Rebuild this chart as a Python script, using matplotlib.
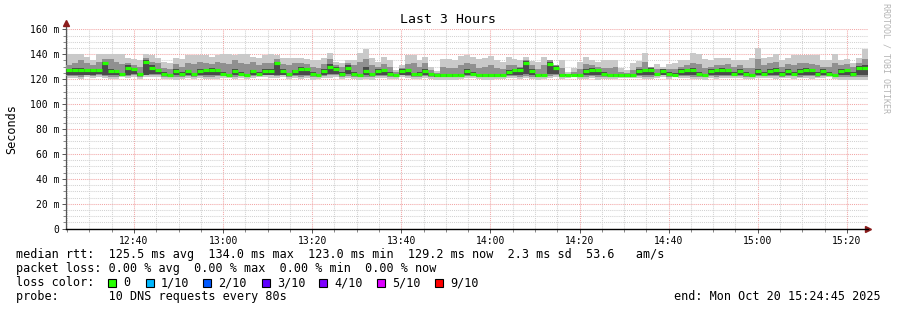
import numpy as np
import pandas as pd
import matplotlib
matplotlib.use("Agg")
import matplotlib.pyplot as plt
import matplotlib.dates as mdates
from matplotlib.ticker import MultipleLocator, FuncFormatter
from matplotlib.patches import Rectangle

# SmokePing "Last 3 Hours", 80 s steps, values in ms
start = pd.Timestamp("2025-10-20 12:24:45")
n_steps = 135

median = [
    127.5, 127.5, 127.5, 127.5, 127.5, 127.5, 133.3, 126.6, 126.6, 123.9, 128.7, 127.9, 123.9, 134.0, 129.3,
    127.4, 124.5, 123.0, 126.6, 124.5, 126.6, 123.9, 126.6, 127.4, 127.4, 127.4, 124.5, 123.0, 126.6, 124.5,
    123.0, 126.6, 124.5, 126.6, 126.6, 133.3, 126.6, 123.9, 126.6, 127.9, 127.9, 124.5, 123.0, 126.6, 130.0,
    127.9, 124.5, 129.3, 124.5, 123.0, 126.6, 123.9, 126.6, 127.4, 124.5, 123.0, 126.6, 127.4, 123.9, 124.5,
    126.6, 123.9, 123.0, 123.0, 123.0, 123.0, 123.0, 126.6, 124.5, 123.0, 123.0, 123.0, 123.0, 123.0, 125.5,
    127.4, 127.4, 133.3, 126.6, 123.0, 123.0, 132.5, 129.3, 123.0, 123.0, 123.0, 123.0, 126.6, 127.4, 127.4,
    124.5, 123.0, 123.0, 123.0, 123.0, 123.0, 126.6, 127.4, 127.4, 123.9, 126.6, 124.5, 123.5, 126.6, 127.4,
    127.4, 124.5, 123.0, 126.6, 127.4, 127.4, 127.4, 124.5, 126.6, 124.5, 123.0, 126.6, 124.5, 126.6, 127.4,
    124.5, 126.6, 124.5, 126.6, 127.4, 127.4, 124.5, 126.6, 124.5, 123.0, 126.6, 127.4, 124.5, 129.3, 129.3,
]

smoke_hi = [
    140, 140, 140, 138, 135.5, 140, 140, 140, 140, 140, 137, 136, 135, 140, 139,
    137, 134, 133, 137, 136, 139, 139, 139, 139, 138, 139, 140, 140, 139, 140,
    140, 138, 137, 139, 140, 139, 137, 137, 137, 137, 136, 135.5, 135, 137, 141,
    134, 133, 135.5, 135.5, 140.8, 144, 136.8, 134, 137.6, 135.5, 127.4, 131.4, 139.4, 139.4, 135.5,
    138.1, 130, 126.6, 136, 136, 135.5, 138.6, 139.4, 137.6, 136, 136.8, 138.6, 135.5, 134, 138,
    136, 135, 137.6, 134.9, 134, 137.6, 134, 131.5, 135.5, 126.1, 128.7, 134, 138.1, 135.5, 134,
    135.5, 135.5, 135.5, 128.7, 127.4, 132.8, 134.9, 140.8, 130, 132, 130, 132, 133, 135, 135.5,
    141, 140, 136, 135.5, 137, 137, 137, 135.5, 135.5, 135.5, 137, 145, 137, 138, 140,
    135.5, 137, 139.5, 139.5, 139.5, 139.5, 139.5, 135.5, 135.5, 140, 135.5, 136, 133, 137, 144,
]

smoke_lo = [
    121, 121, 120, 121.5, 121, 122, 121, 120, 120, 122, 121, 122, 120, 121.5, 122,
    122, 120.5, 120, 119.5, 120, 121, 120.5, 121, 120, 120, 120.5, 121, 121, 120, 121,
    120, 121, 122, 122, 121, 121, 122, 120, 121, 120, 121, 119.5, 120, 121, 121,
    122, 120, 121, 120, 119.5, 120, 119.5, 121, 121, 120, 120.5, 122, 121, 120, 120,
    121, 120.5, 119.5, 119.5, 119.5, 119.5, 120, 121, 121, 120, 119.5, 119.5, 120, 120, 121,
    121, 120, 121, 120, 119.5, 120, 121, 122, 120.5, 121, 121.5, 120, 120, 121, 119.5,
    120, 120.5, 120.5, 121, 121, 121, 121, 120.5, 120, 121, 121.5, 120.5, 121.5, 121, 121,
    120, 120, 119.5, 121, 120, 121, 121, 121, 121, 120, 120.5, 121, 121, 121, 120,
    121, 121, 120, 121, 121, 120.5, 121, 121, 121.5, 120, 119.5, 119.5, 119.5, 119.5, 119.5,
]

mid_hi = [
    131, 133, 135, 133, 131, 134, 136, 136, 134, 132, 133, 131, 130, 137, 134,
    133, 129, 128, 132, 130, 133, 132, 134, 133, 132, 134, 133, 132, 135, 133,
    132, 134, 131, 133, 133, 136, 132, 131, 133, 133, 132, 130, 129, 132, 136,
    131, 130, 133, 131, 134, 136, 131, 130, 132, 130, 125.5, 129, 132, 133, 130,
    133, 127, 125, 130, 129, 129, 131, 133, 132, 129, 130, 131, 129, 128, 131,
    131, 130, 135.5, 131, 128, 131, 135, 131, 129, 124.5, 126, 128, 132, 131, 130,
    129, 129, 130, 126, 125, 127, 130, 134, 130, 128, 128.5, 128, 128, 130, 131,
    133, 132, 129, 130, 131, 131, 132, 130, 131, 129, 129, 136, 131, 133, 134,
    130, 132, 131, 133, 133, 132, 131, 130, 130, 133, 131, 132, 130, 133, 136,
]

mid_lo = [
    122.5, 122.5, 122, 123, 122.5, 123, 122.5, 122, 122, 123, 122.5, 123, 122, 123, 123,
    123, 122, 121.5, 121.5, 122, 122.5, 122, 122.5, 122, 122, 122.5, 122.5, 122.5, 122, 122.5,
    122, 122.5, 123, 123, 123, 122.5, 123, 122, 122.5, 122, 122.5, 121.5, 122, 122.5, 123,
    123, 122, 122.5, 122, 121.5, 122, 121.5, 122.5, 122.5, 122, 122, 123, 122.5, 122, 122,
    122.5, 122, 121.5, 121.5, 121.5, 121.5, 122, 122.5, 122.5, 122, 121.5, 121.5, 122, 122, 122.5,
    122.5, 122, 122.5, 122, 121.5, 122, 122.5, 123, 122, 122.5, 123, 122, 122, 122.5, 121.5,
    122, 122, 122, 122.5, 122.5, 122.5, 122.5, 122, 122, 122.5, 123, 122, 123, 122.5, 122.5,
    122, 122, 121.5, 122.5, 122, 122.5, 122.5, 122.5, 122.5, 122, 122, 122.5, 122.5, 122.5, 122.5,
    122, 122.5, 122.5, 122, 122.5, 122.5, 122, 122.5, 122.5, 123, 122, 121.5, 121.5, 121.5, 121.5,
]

core_lo = [
    123, 123, 123, 123.5, 123.5, 124, 123, 123.5, 123.5, 122.5, 123.5, 124, 122.5, 123.5, 124,
    124, 123, 122.5, 123, 123, 123.5, 122.5, 123, 123.5, 123.5, 123.5, 123, 122.5, 123, 123,
    122.5, 123, 123, 123.5, 123.5, 123.5, 123.5, 122.5, 123, 123.5, 123.5, 123, 122.5, 123, 124,
    124, 123, 124, 123, 122.5, 123, 122.5, 123, 123.5, 123, 122.5, 123.5, 123.5, 122.5, 123,
    123.5, 122.5, 122, 122, 122, 122, 122.5, 123, 123, 122.5, 122, 122, 122, 122.5, 123,
    123.5, 123, 124, 123, 122, 122.5, 124, 124.5, 122.5, 122.5, 123, 122.5, 123, 123.5, 123,
    123, 122.5, 122, 122, 122, 122, 123, 123.5, 123.5, 123, 123.5, 123, 122.5, 123, 123.5,
    123.5, 123, 122.5, 123, 123.5, 123.5, 123.5, 123, 123, 123, 122.5, 123, 123, 123, 123.5,
    123, 123, 123, 123.5, 123.5, 123.5, 123, 123, 123, 122.5, 123, 123.5, 122.5, 123, 123.5,
]

core_hi = [
    128.5, 129, 129, 128.5, 128.5, 128.5, 134, 128, 127.5, 125, 131, 129, 125, 135, 131,
    128.5, 126, 124.5, 128, 125.5, 127.5, 125, 128, 128.5, 129, 128.5, 125.5, 124.5, 128, 125.5,
    124.5, 127.5, 125.5, 128, 128, 134, 128, 125, 127.5, 129.5, 129, 126, 124.5, 128, 132,
    129.5, 125.5, 131, 125.5, 124.5, 130, 125, 128, 128.5, 125.5, 124.5, 128, 128.5, 125, 126,
    128, 125, 124.5, 124, 124, 124, 124.5, 128, 126, 124.5, 124.5, 124, 124.5, 124.5, 127,
    128.5, 129, 134.5, 128, 124.5, 124.5, 133.5, 130.5, 124.5, 124, 124, 124.5, 128, 129, 128.5,
    126, 124.5, 124, 124, 124, 124.5, 128, 128.5, 129, 125, 128, 126, 125, 128, 128.5,
    129, 126, 124.5, 128, 128.5, 129, 128.5, 126, 128, 126, 124.5, 128, 126, 128, 129,
    126, 128, 126, 128, 129, 128.5, 126, 128, 126, 124.5, 128, 128.5, 126, 130.5, 131.5,
]

legend_lines = [
    "median rtt:  125.5 ms avg  134.0 ms max  123.0 ms min  129.2 ms now  2.3 ms sd  53.6   am/s",
    "packet loss: 0.00 % avg  0.00 % max  0.00 % min  0.00 % now",
    "loss color:",
    "probe:       10 DNS requests every 80s",
]
loss_labels = ["0", "1/10", "2/10", "3/10", "4/10", "5/10", "9/10"]
loss_colors = ["#26ff00", "#00b8ff", "#0059ff", "#5e00ff", "#7e00ff", "#dd00ff", "#ff0000"]
end_label = "end: Mon Oct 20 15:24:45 2025"

mono = "DejaVu Sans Mono"
W, H = 897, 310

edges = mdates.date2num(pd.date_range(start, periods=n_steps + 1, freq="80s").to_pydatetime())

fig = plt.figure(figsize=(W / 100, H / 100), dpi=100)
fig.patch.set_facecolor("white")

x0, x1, ytop, ybot = 66, 868, 29.3, 228.7
ax = fig.add_axes([x0 / W, 1 - ybot / H, (x1 - x0) / W, (ybot - ytop) / H])
ax.set_xlim(edges[0], edges[-1])
ax.set_ylim(0, 160)
ax.set_axisbelow(True)

# smoke layers + median
ax.stairs(smoke_hi, edges, baseline=np.array(smoke_lo), fill=True, color="#c9c9c9", lw=0, zorder=2)
ax.stairs(mid_hi, edges, baseline=np.array(mid_lo), fill=True, color="#909090", lw=0, zorder=3)
ax.stairs(core_hi, edges, baseline=np.array(core_lo), fill=True, color="#4a4a4a", lw=0, zorder=4)
ax.hlines(median, edges[:-1], edges[1:], colors=loss_colors[0], lw=2.3, zorder=5)

# grid
ax.yaxis.set_major_locator(MultipleLocator(20))
ax.yaxis.set_minor_locator(MultipleLocator(5))
ax.xaxis.set_major_locator(mdates.MinuteLocator(byminute=[0, 20, 40]))
ax.xaxis.set_minor_locator(mdates.MinuteLocator(byminute=range(0, 60, 5)))
ax.xaxis.set_major_formatter(mdates.DateFormatter("%H:%M"))
ax.yaxis.set_major_formatter(FuncFormatter(lambda v, p: "0" if v == 0 else f"{v:.0f} m"))
ax.grid(which="minor", color="#d2d2d2", ls=(0, (1, 1)), lw=0.75)
ax.grid(which="major", color="#f2a6a6", ls=(0, (1, 1)), lw=0.75)

for s in ("top", "right"):
    ax.spines[s].set_visible(False)
ax.spines["left"].set_color("#555555")
ax.spines["left"].set_linewidth(0.9)
ax.spines["bottom"].set_color("black")
ax.spines["bottom"].set_linewidth(1.0)

ax.tick_params(which="major", length=3, width=0.7, color="#555555", pad=2, labelsize=7)
ax.tick_params(which="minor", length=2, width=0.7, color="#888888")
for lab in ax.get_xticklabels() + ax.get_yticklabels():
    lab.set_fontfamily(mono)

# axis arrows
ax.plot([0, 0], [1, 1.03], transform=ax.transAxes, color="#555555", lw=0.9, clip_on=False)
ax.plot([0], [1.03], marker="^", ms=4, color="#8b1c1c", transform=ax.transAxes, clip_on=False)
ax.plot([1], [0], marker=">", ms=4, color="#8b1c1c", transform=ax.transAxes, clip_on=False)

ax.set_ylabel("Seconds", fontsize=8.5, fontfamily=mono, labelpad=8)

fig.text(447.5 / W, 1 - 19.5 / H, "Last 3 Hours", ha="center", va="center",
         fontsize=9.5, fontfamily=mono)
fig.text(886 / W, 1 - 58 / H, "RRDTOOL / TOBI OETIKER", rotation=270, ha="center", va="center",
         fontsize=6, fontfamily=mono, color="#b4b4b4")

# legend block
line_y = [254.5, 268.5, 282.5, 296.5]
for txt, yy in zip(legend_lines, line_y):
    fig.text(16 / W, 1 - yy / H, txt, ha="left", va="center", fontsize=8.5, fontfamily=mono)

box_x = [108, 146, 203, 262, 319, 377, 435]
for bx, lbl, col in zip(box_x, loss_labels, loss_colors):
    fig.patches.append(Rectangle((bx / W, 1 - (line_y[2] + 4) / H), 8 / W, 8 / H,
                                 transform=fig.transFigure, facecolor=col,
                                 edgecolor="black", lw=0.8))
    fig.text((bx + 15) / W, 1 - line_y[2] / H, lbl, ha="left", va="center",
             fontsize=8.5, fontfamily=mono)

fig.text(881 / W, 1 - line_y[3] / H, end_label, ha="right", va="center",
         fontsize=8.5, fontfamily=mono)

fig.savefig("out.png", dpi=100)
